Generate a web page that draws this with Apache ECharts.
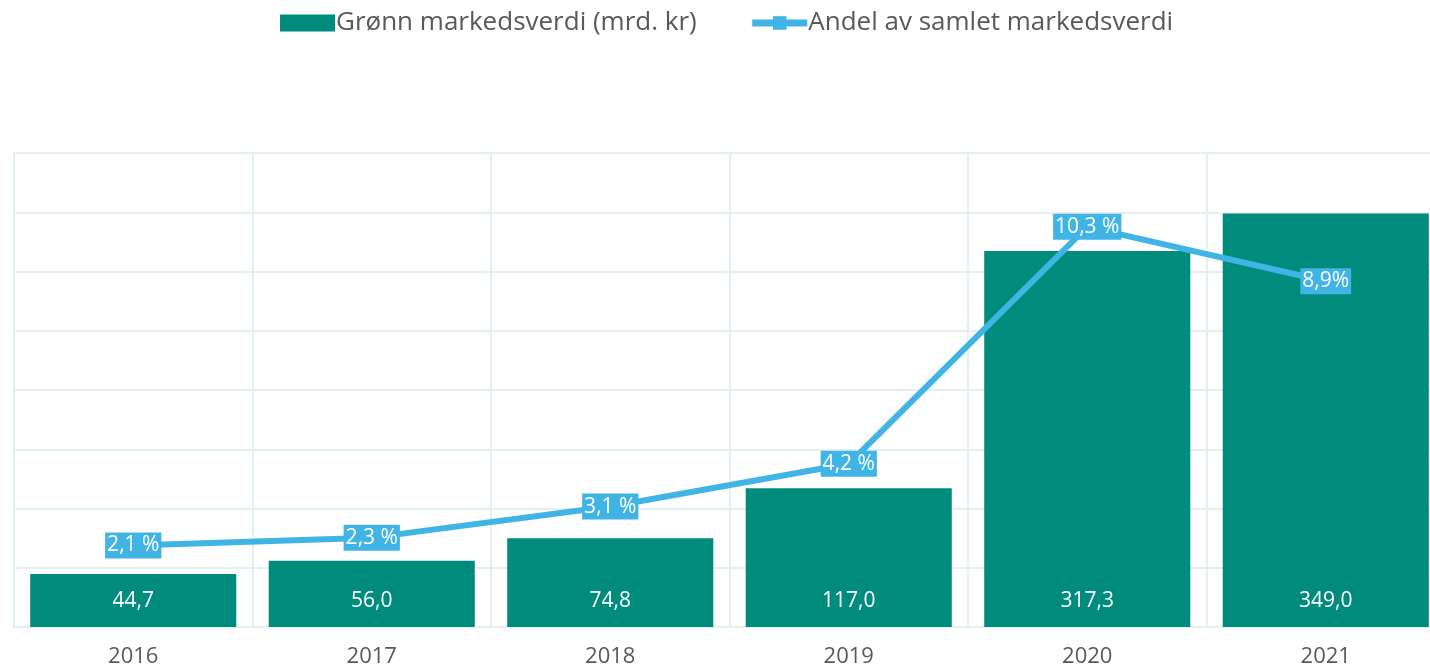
<!DOCTYPE html>
<html>
<head>
<meta charset="utf-8">
<style>
  html, body { margin: 0; padding: 0; background: #fff; }
  #main { width: 1430px; height: 668px; }
</style>
<script src="https://cdn.jsdelivr.net/npm/echarts@6/dist/echarts.min.js"></script>
</head>
<body>
<div id="main"></div>
<script>
const years = ["2016", "2017", "2018", "2019", "2020", "2021"];
const marketValues = [44.7, 56.0, 74.8, 117.0, 317.3, 349.0];
const shareValues = [2.1, 2.3, 3.1, 4.2, 10.3, 8.9];
const shareLabels = ["2,1 %", "2,3 %", "3,1 %", "4,2 %", "10,3 %", "8,9%"];

const FONT = "'Open Sans', 'Noto Sans', sans-serif";
const gridColor = "#e5f1f1";

const chart = echarts.init(document.getElementById("main"));

chart.setOption({
  backgroundColor: "#fff",
  textStyle: { fontFamily: FONT },
  legend: {
    top: 5,
    left: 275,
    itemWidth: 55,
    itemHeight: 17,
    itemGap: 52,
    textStyle: { fontSize: 26, color: "#595959", fontFamily: FONT, padding: [0, 0, 0, -4] },
    data: [
      { name: "Grønn markedsverdi (mrd. kr)", icon: "rect" },
      { name: "Andel av samlet markedsverdi", lineStyle: { width: 7 } }
    ]
  },
  // the plot runs past the right edge of the picture
  grid: { left: 14, width: 1431, top: 153, height: 474, outerBoundsMode: "none" },
  xAxis: {
    type: "category",
    data: years,
    axisTick: { show: false },
    axisLine: { lineStyle: { color: gridColor, width: 2 } },
    axisLabel: { color: "#595959", fontSize: 22, margin: 19, fontFamily: FONT },
    splitLine: { show: true, interval: 0, lineStyle: { color: gridColor, width: 2 } }
  },
  yAxis: [
    {
      type: "value",
      min: 0,
      max: 400,
      interval: 50,
      axisLabel: { show: false },
      axisLine: { show: false },
      axisTick: { show: false },
      splitLine: { lineStyle: { color: gridColor, width: 2 } }
    },
    {
      type: "value",
      min: 0,
      max: 12.2,
      show: false,
      splitLine: { show: false }
    }
  ],
  series: [
    {
      name: "Grønn markedsverdi (mrd. kr)",
      type: "bar",
      data: marketValues,
      barCategoryGap: "13.6%",
      itemStyle: { color: "#008c7c" },
      label: {
        show: true,
        position: "insideBottom",
        distance: 15,
        color: "#fff",
        fontSize: 21,
        fontFamily: FONT,
        formatter: p => p.value.toFixed(1).replace(".", ",")
      }
    },
    {
      name: "Andel av samlet markedsverdi",
      type: "line",
      yAxisIndex: 1,
      data: shareValues,
      symbol: "rect",
      symbolSize: 14,
      itemStyle: { color: "#41b4e6" },
      lineStyle: { color: "#41b4e6", width: 6 },
      label: {
        show: true,
        position: "inside",
        color: "#fff",
        fontSize: 21,
        fontFamily: FONT,
        backgroundColor: "#41b4e6",
        padding: [3, 2, 2, 2],
        formatter: p => shareLabels[p.dataIndex]
      }
    }
  ]
});
</script>
</body>
</html>
